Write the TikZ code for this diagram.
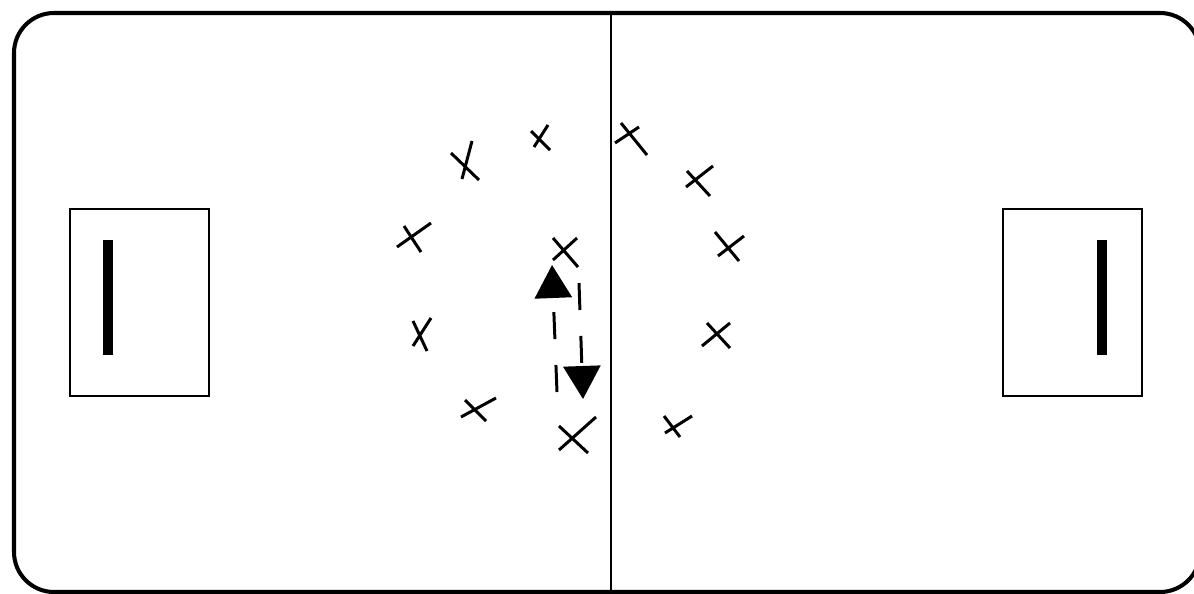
\documentclass[tikz,border=0pt]{standalone}
\usetikzlibrary{arrows.meta}
\tikzset{
  player/.style={line width=1.7pt},
  run/.style={line width=1.7pt, dash pattern=on 0.54cm off 0.52cm,
    -{Triangle[length=0.66cm,width=0.74cm]}},
}
\begin{document}
\begin{tikzpicture}[x=0.02cm, y=-0.02cm]
	\useasboundingbox (0,0) rectangle (1194,593);
	% pitch and halfway line
	\draw[line width=2.3pt, rounded corners=0.8cm] (14,13) rectangle (1200,592);
	\draw[line width=1.1pt] (611,13) -- (611,593);
	% goals
	\draw[line width=1.2pt] (70,209) rectangle (209,396);
	\fill (103,240) rectangle (113,355);
	\draw[line width=1.2pt] (1003,209) rectangle (1142,396);
	\fill (1097,240) rectangle (1107,355);
	% players
	\foreach \a/\b/\c/\d/\e/\f/\g/\h in {531/131/550/150/534/147/548/125,
		451/153/479/180/472/141/462/179, 397/247/431/223/404/226/421/252,
		553/238/578/267/553/260/577/238, 413/321/427/351/431/318/413/346,
		461/417/496/398/465/400/486/421, 559/450/596/417/559/426/588/453,
		621/123/647/155/615/143/639/127, 686/187/713/166/687/171/710/196,
		715/232/739/261/718/256/744/236, 702/346/730/323/707/323/730/348,
		665/433/692/416/664/416/680/437}
		\draw[player] (\a,\b) -- (\c,\d) (\e,\f) -- (\g,\h);
	% runs
	\coordinate (upfrom) at (557,392);
	\coordinate (upto) at (552,265);
	\coordinate (downfrom) at (579,283);
	\coordinate (downto) at (583,399);
	\draw[run] (upfrom) -- (upto);
	\draw[run] (downfrom) -- (downto);
\end{tikzpicture}
\end{document}
